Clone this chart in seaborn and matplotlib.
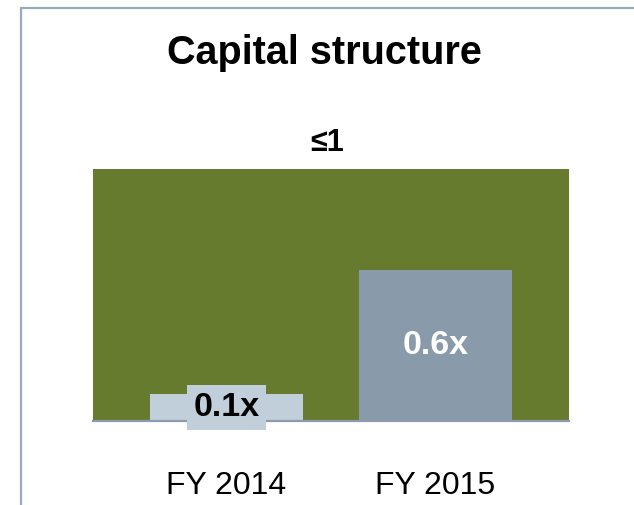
import matplotlib
matplotlib.use('Agg')
import matplotlib.pyplot as plt
from matplotlib.lines import Line2D
import pandas as pd
import seaborn as sns

# data
years = ['FY 2014', 'FY 2015']
ratios = [0.107, 0.6]
bar_labels = ['0.1x', '0.6x']
limit = 1.0
limit_label = '\u22641'
title = 'Capital structure'

green = '#667b2e'
bar_colors = ['#c0cfda', '#899baa']
label_colors = ['black', 'white']
line_color = '#8a9bb0'

sns.set_theme(style='white')
plt.rcParams['font.family'] = ['Liberation Sans', 'DejaVu Sans']
plt.rcParams['text.color'] = 'black'
plt.rcParams['xtick.color'] = 'black'

df = pd.DataFrame({'year': years, 'ratio': ratios})

fig = plt.figure(figsize=(6.34, 5.05), dpi=100)
ax = fig.add_axes([93 / 634, 84 / 505, 476 / 634, 252 / 505])

# target band (<= 1x)
ax.axhspan(0, limit, color=green, zorder=0, lw=0)

sns.barplot(data=df, x='year', y='ratio', hue='year', palette=bar_colors,
            width=0.732, legend=False, saturation=1, ax=ax, zorder=2,
            edgecolor='none', linewidth=0)

ax.set_xlim(-0.639, 1.639)
ax.set_ylim(0, limit)
ax.set_xlabel('')
ax.set_ylabel('')
ax.set_yticks([])
ax.tick_params(axis='x', length=0, pad=36, labelsize=23, labelcolor='black')
for s in ['top', 'right', 'left']:
    ax.spines[s].set_visible(False)
ax.spines['bottom'].set_color(line_color)
ax.spines['bottom'].set_linewidth(1.6)
ax.spines['bottom'].set_zorder(3)

for i, (v, lab) in enumerate(zip(ratios, bar_labels)):
    kw = {}
    if i == 0:
        kw['bbox'] = dict(boxstyle='square,pad=0.2', fc=bar_colors[0], ec='none')
    ax.text(i, v / 2, lab, ha='center', va='center', fontsize=24.5,
            fontweight='bold', color=label_colors[i], zorder=4, **kw)

ax.annotate(limit_label, xy=(0.48, limit), xytext=(0, 19), textcoords='offset points',
            ha='center', va='center', fontsize=22, fontweight='bold',
            color='black', annotation_clip=False)

fig.text(324 / 634, 1 - 53 / 505, title, ha='center', va='center',
         fontsize=28.5, fontweight='bold', color='black')

# panel frame (top and left edges visible)
fig.add_artist(Line2D([21 / 634, 21 / 634], [0, 1 - 8 / 505], color='#9aaabb', lw=1.6))
fig.add_artist(Line2D([21 / 634, 1], [1 - 8 / 505, 1 - 8 / 505], color='#9aaabb', lw=1.6))

fig.savefig('out.png', dpi=100)
